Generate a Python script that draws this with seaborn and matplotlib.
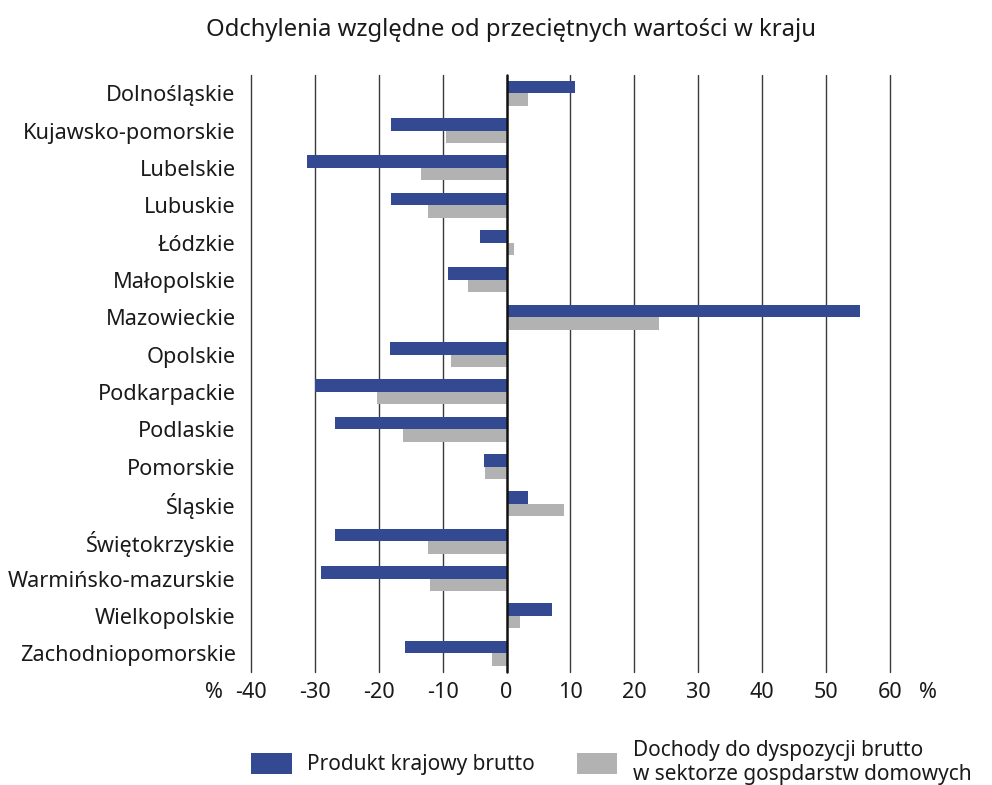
import pandas as pd
import seaborn as sns
import matplotlib.pyplot as plt
from matplotlib.patches import Patch

# Data (% deviation from national average)
regions = [
    "Dolnośląskie", "Kujawsko-pomorskie", "Lubelskie", "Lubuskie", "Łódzkie",
    "Małopolskie", "Mazowieckie", "Opolskie", "Podkarpackie", "Podlaskie",
    "Pomorskie", "Śląskie", "Świętokrzyskie", "Warmińsko-mazurskie",
    "Wielkopolskie", "Zachodniopomorskie",
]
pkb = [10.7, -18.1, -31.2, -18.1, -4.1, -9.2, 55.3, -18.2, -29.9, -26.8,
       -3.5, 3.4, -26.8, -29.0, 7.1, -15.9]
dochody = [3.4, -9.5, -13.4, -12.3, 1.2, -6.0, 23.9, -8.7, -20.3, -16.2,
           -3.4, 9.0, -12.3, -12.0, 2.1, -2.3]
series_names = ["Produkt krajowy brutto",
                "Dochody do dyspozycji brutto\nw sektorze gospdarstw domowych"]
colors = ["#334a92", "#b2b2b2"]
x_ticks = [-40, -30, -20, -10, 0, 10, 20, 30, 40, 50, 60]

data = pd.DataFrame({
    "Region": regions * 2,
    "Wartość": pkb + dochody,
    "Seria": [series_names[0]] * len(regions) + [series_names[1]] * len(regions),
})

sns.set_style("white")
plt.rcParams["font.family"] = ["Noto Sans", "DejaVu Sans"]
text_color = "#1a1a1a"
fs = 15.6

fig = plt.figure(figsize=(9.92, 7.85), dpi=100)
ax = fig.add_axes([0.253, 0.144, 0.644, 0.761])

# vertical grid lines behind the bars
for t in x_ticks:
    ax.axvline(t, color="#111111" if t == 0 else "#3a3a3a",
               lw=1.8 if t == 0 else 1.0, zorder=0 if t != 0 else 3,
               clip_on=False)

sns.barplot(data=data, y="Region", x="Wartość", hue="Seria", orient="h",
            order=regions, hue_order=series_names, palette=colors,
            width=0.67, gap=0, errorbar=None, legend=False, ax=ax,
            saturation=1, linewidth=0, zorder=2)

ax.set_xlim(-40, 60)
ax.set_ylim(len(regions) - 0.5, -0.5)
ax.set_xticks(x_ticks)
ax.set_xticklabels([str(t) for t in x_ticks], fontsize=fs, color=text_color)
ax.tick_params(axis="y", labelsize=fs, colors=text_color, length=0, pad=11)
ax.tick_params(axis="x", length=0, pad=7)
ax.set_xlabel("")
ax.set_ylabel("")
for s in ax.spines.values():
    s.set_visible(False)

# percent signs at both ends of the x axis
ax.annotate("%", xy=(-40, 0), xycoords=("data", "axes fraction"),
            xytext=(-37, -9.7), textcoords="offset pixels",
            ha="center", va="top", fontsize=fs, color=text_color)
ax.annotate("%", xy=(60, 0), xycoords=("data", "axes fraction"),
            xytext=(38, -9.7), textcoords="offset pixels",
            ha="center", va="top", fontsize=fs, color=text_color)

fig.text(0.515, 0.962, "Odchylenia względne od przeciętnych wartości w kraju",
         ha="center", va="center", fontsize=17.2, color=text_color)

handles = [Patch(facecolor=c, edgecolor="none") for c in colors]
fig.legend(handles, series_names, loc="center left", ncol=2,
           bbox_to_anchor=(0.253, 0.029), frameon=False, fontsize=15,
           handlelength=1.95, handleheight=1.2, handletextpad=0.75,
           columnspacing=2.0, borderpad=0, borderaxespad=0,
           labelcolor=text_color)

fig.savefig("out.png", dpi=100)
